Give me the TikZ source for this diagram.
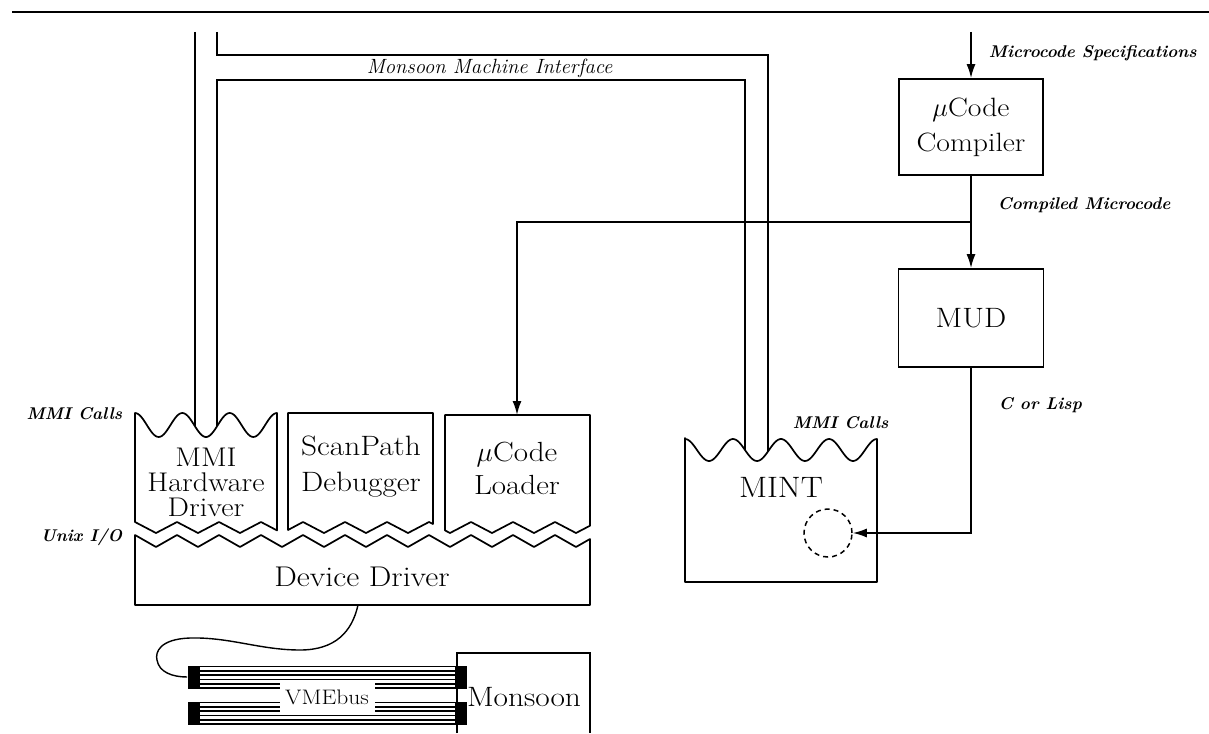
\documentclass[tikz,border=0pt]{standalone}
\usepackage{fix-cm}
\usepackage{fontspec}
\newfontfamily\widefont{Latin Modern Roman}[FakeStretch=1.12]
\usetikzlibrary{arrows.meta}
\tikzset{
  lbl/.style={font=\widefont\fontsize{28}{34}\selectfont, align=center, inner sep=0pt},
  sidelbl/.style={font=\fontsize{17}{20}\selectfont\bfseries\itshape, inner sep=0pt},
  arr/.style={-{Latex[length=14pt,width=9pt]}},
  shp/.style={draw, fill=white, line join=round},
  busend/.style={fill=black, minimum width=12pt, minimum height=23pt, inner sep=0pt},
  busline/.style={line width=1.8pt},
}
\begin{document}
\begin{tikzpicture}[x=1pt,y=-1pt,line width=1.7pt]
\fill[white] (0,0) rectangle (1209,733);
\useasboundingbox (0,0) rectangle (1209,733);
% top rule
\draw[line width=2.6pt] (12,12) -- (1209,12);

% Monsoon Machine Interface pipe
\draw (195,32) -- (195,440);
\draw (217,440) -- (217,80) -- (745,80) -- (745,458);
\draw (217,32) -- (217,55) -- (768,55) -- (768,458);
\node[anchor=west, font=\fontsize{20.6}{23}\selectfont\itshape, inner sep=0pt] (mmiif) at (366,68) {Monsoon Machine Interface};

% MMI Hardware Driver box (wavy top, zigzag bottom)
\path[shp] (135,522) -- (135,413)
  -- plot[domain=135:277, samples=90, smooth] (\x,{425-12*cos(7.6056*(\x-135))})
  -- (277,530.4) -- (261,522) -- (240,533) -- (219,522) -- (198,533) -- (177,522) -- (156,533) -- cycle;
% ScanPath Debugger box
\path[shp] (288,413) -- (433,413) -- (433,524) -- (429,522) -- (408,533) -- (387,522) -- (366,533)
  -- (345,522) -- (324,533) -- (303,522) -- (288,530) -- cycle;
% uCode Loader box
\path[shp] (445,415) -- (590,415) -- (590,525.7) -- (576,533) -- (555,522) -- (534,533) -- (513,522)
  -- (492,533) -- (471,522) -- (450,533) -- (445,530.4) -- cycle;
% Device Driver box
\path[shp] (135,605) -- (135,535) -- (156,547) -- (177,535) -- (198,547) -- (219,535) -- (240,547)
  -- (261,535) -- (282,547) -- (303,535) -- (324,547) -- (345,535) -- (366,547) -- (387,535)
  -- (408,547) -- (429,535) -- (450,547) -- (471,535) -- (492,547) -- (513,535) -- (534,547)
  -- (555,535) -- (576,547) -- (590,539) -- (590,605) -- cycle;

% MINT box
\path[shp] (685,582) -- (685,438)
  -- plot[domain=685:877, samples=110, smooth] (\x,{450-11*cos(7.5*(\x-685))})
  -- (877,582) -- cycle;

% texts in boxes
\node[lbl, font=\widefont\fontsize{27}{25}\selectfont] (mmihw) at (206,482) {MMI\\Hardware\\Driver};
\node[lbl, font=\widefont\fontsize{28}{36}\selectfont] (scan) at (361,467) {ScanPath\\Debugger};
\node[lbl, font=\widefont\fontsize{27.7}{33}\selectfont] (loader) at (517,468) {$\mu$Code\\Loader};
\node[lbl, font=\widefont\fontsize{28.5}{34}\selectfont] (dd) at (362,577) {Device Driver};
\node[lbl, font=\widefont\fontsize{29.5}{34}\selectfont] (mint) at (781,487) {MINT};
\node[draw, dashed, dash pattern=on 5pt off 4pt, circle, minimum size=48pt, inner sep=0pt, line width=1.5pt] (hole) at (828,533) {};

% side labels
\node[sidelbl, anchor=east] (mmicalls1) at (123,414) {MMI Calls};
\node[sidelbl, anchor=east] (unixio) at (123,537) {Unix I/O};
\node[sidelbl, anchor=west] (mmicalls2) at (792,423) {MMI Calls};

% compiler chain
\node[draw, lbl, font=\widefont\fontsize{26.5}{35}\selectfont, minimum width=144pt, minimum height=96pt] (comp) at (971,127) {$\mu$Code\\Compiler};
\node[draw, lbl, minimum width=145pt, minimum height=98pt] (mud) at (971,318) {MUD};
\coordinate (specin) at (971,32);
\coordinate (j) at (971,222);
\coordinate (ldtop) at (517,415);
\draw[arr] (specin) -- (comp.north);
\draw (comp.south) -- (j);
\draw[arr] (j) -- (mud.north);
\draw[arr] (j) -| (ldtop);
\draw[arr] (mud.south) |- (hole.east);
\node[sidelbl, anchor=west] (specs) at (988,53) {Microcode Specifications};
\node[sidelbl, anchor=west] (compiled) at (997,205) {Compiled Microcode};
\node[sidelbl, anchor=west] (clisp) at (998,405) {C or Lisp};

% Monsoon box (open at bottom)
\draw (457,733) -- (457,653) -- (590,653) -- (590,733);
\node[lbl] (monsoon) at (524,697) {Monsoon};

% VMEbus
\foreach \k in {0,...,5} {
  \draw[busline] (200,{666.5+4.3*\k}) -- (455,{666.5+4.3*\k});
  \draw[busline] (200,{702.5+4.3*\k}) -- (455,{702.5+4.3*\k});
}
\node[fill=white, inner sep=0pt, minimum width=95pt, minimum height=31pt, font=\widefont\fontsize{21}{24}\selectfont] (vme) at (327,697) {VMEbus};
\node[busend] (b1l) at (194,677) {};
\node[busend] (b1r) at (461,677) {};
\node[busend] (b2l) at (194,713) {};
\node[busend] (b2r) at (461,713) {};

% cable
\coordinate (ddbot) at (358,605);
\draw[line width=1.4pt] (ddbot) .. controls (352,632) and (335,650) .. (300,650)
  .. controls (260,650) and (230,637) .. (190,638)
  .. controls (160,639) and (155,652) .. (157,660)
  .. controls (159,672) and (172,677) .. (b1l.west);
\end{tikzpicture}
\end{document}
